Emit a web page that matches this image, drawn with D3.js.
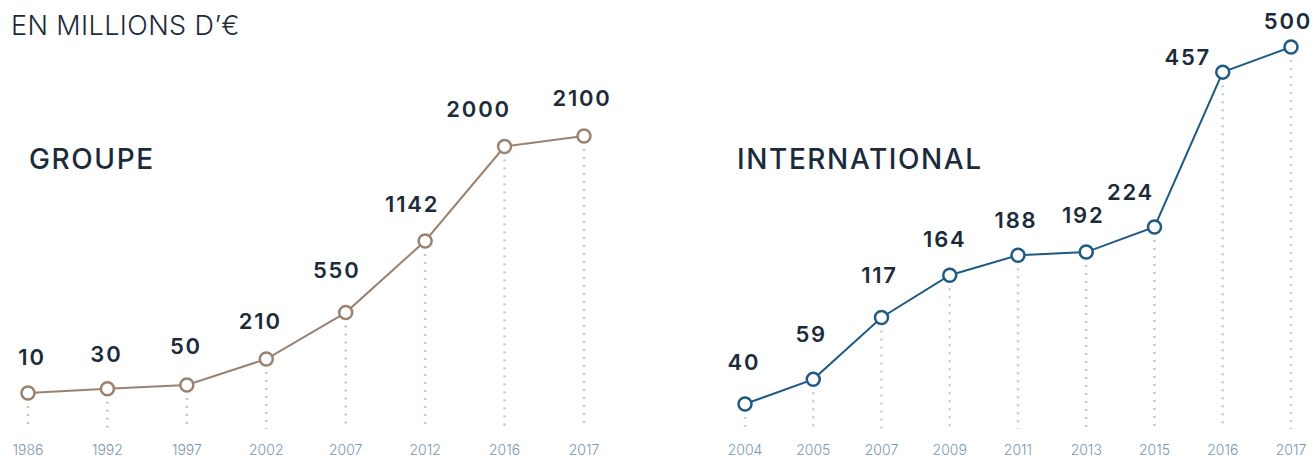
<!DOCTYPE html>
<html>
<head>
<meta charset="utf-8">
<script src="https://cdn.jsdelivr.net/npm/d3@7"></script>
<style>
  html, body { margin: 0; padding: 0; background: #fff; }
  svg { display: block; font-family: Inter, "Noto Sans", sans-serif; }
</style>
</head>
<body>
<svg width="1315" height="458"></svg>
<script>
// data
const groupeYears = ["1986", "1992", "1997", "2002", "2007", "2012", "2016", "2017"];
const groupeValues = [10, 30, 50, 210, 550, 1142, 2000, 2100];
const intlYears = ["2004", "2005", "2007", "2009", "2011", "2013", "2015", "2016", "2017"];
const intlValues = [40, 59, 117, 164, 188, 192, 224, 457, 500];

// label nudges [dx, dy above point]
const groupeNudge = [[4, 28], [-1, 27], [-1, 31], [-6, 30], [-9, 35], [-13, 29], [-26, 30], [-2, 30]];
const intlNudge = [[-1, 34], [-2, 37], [-2, 34], [-5, 28], [-2, 27], [-3, 29], [-24, 27], [-35, 7], [-3, 18]];

(function () {
  "use strict";
  const svg = d3.select("svg");
  const textColor = "#1c2b3a";
  const yearColor = "#7d96ab";

  svg.append("text")
    .attr("x", 11)
    .attr("y", 35)
    .attr("font-size", 27)
    .attr("font-weight", 300)
    .attr("letter-spacing", 0.4)
    .attr("fill", textColor)
    .text("EN MILLIONS D\u2019\u20ac");

  function panel(opts) {
    const g = svg.append("g");
    const x = d3.scalePoint().domain(opts.years).range(opts.xRange);
    const y = opts.yScale;

    g.append("text")
      .attr("x", opts.titleX)
      .attr("y", 169)
      .attr("font-size", 28)
      .attr("font-weight", 500)
      .attr("letter-spacing", 1.6)
      .attr("fill", textColor)
      .text(opts.title);

    // dotted drops
    g.selectAll("line.drop")
      .data(opts.values)
      .join("line")
      .attr("class", "drop")
      .attr("x1", (d, i) => x(opts.years[i]))
      .attr("x2", (d, i) => x(opts.years[i]))
      .attr("y1", d => y(d) + 13)
      .attr("y2", 429)
      .attr("stroke", opts.dotColor)
      .attr("stroke-width", 2.6)
      .attr("stroke-dasharray", "2,6");

    // year labels
    g.selectAll("text.year")
      .data(opts.years)
      .join("text")
      .attr("class", "year")
      .attr("x", d => x(d))
      .attr("y", 455)
      .attr("text-anchor", "middle")
      .attr("font-size", 14)
      .attr("font-weight", 300)
      .attr("fill", yearColor)
      .text(d => d);

    const line = d3.line()
      .x((d, i) => x(opts.years[i]))
      .y(d => y(d));

    g.append("path")
      .datum(opts.values)
      .attr("d", line)
      .attr("fill", "none")
      .attr("stroke", opts.color)
      .attr("stroke-width", 2);

    g.selectAll("circle")
      .data(opts.values)
      .join("circle")
      .attr("cx", (d, i) => x(opts.years[i]))
      .attr("cy", d => y(d))
      .attr("r", 6.5)
      .attr("fill", "#fff")
      .attr("stroke", opts.color)
      .attr("stroke-width", 2.5);

    g.selectAll("text.val")
      .data(opts.values)
      .join("text")
      .attr("class", "val")
      .attr("x", (d, i) => x(opts.years[i]) + opts.nudge[i][0])
      .attr("y", (d, i) => y(d) - opts.nudge[i][1])
      .attr("text-anchor", "middle")
      .attr("font-size", 22)
      .attr("font-weight", 600)
      .attr("letter-spacing", 1.8)
      .attr("fill", textColor)
      .text(d => d);
  }

  panel({
    title: "GROUPE",
    titleX: 29,
    years: groupeYears,
    values: groupeValues,
    nudge: groupeNudge,
    xRange: [28, 584],
    yScale: d3.scalePow().exponent(0.85).domain([10, 2100]).range([393, 136]),
    color: "#9a8270",
    dotColor: "#d3c5b9"
  });

  panel({
    title: "INTERNATIONAL",
    titleX: 737,
    years: intlYears,
    values: intlValues,
    nudge: intlNudge,
    xRange: [745, 1291],
    yScale: d3.scalePow().exponent(0.65).domain([40, 500]).range([404, 47]),
    color: "#1f5a85",
    dotColor: "#bfcfdc"
  });
})();
</script>
</body>
</html>
